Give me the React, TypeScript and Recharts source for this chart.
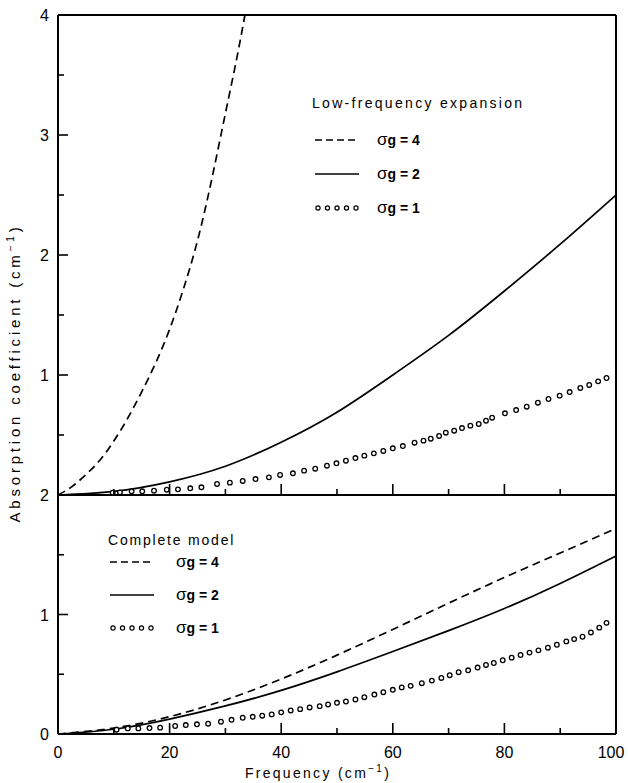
import React from 'react';
import { LineChart, Line, XAxis, YAxis } from 'recharts';

const FONT = '"Liberation Sans", Arial, sans-serif';
const W = 628;
const H = 783;

// ---------- data ----------
// Upper panel: low-frequency expansion
const lowFreq4 = [0, 2.5, 5, 7.5, 10, 12.5, 15, 17.5, 20, 22.5, 25, 27.5, 30, 32, 33.5];
const lowAbs4 = [0, 0.07, 0.17, 0.29, 0.45, 0.64, 0.86, 1.1, 1.38, 1.72, 2.12, 2.62, 3.18, 3.63, 4.0];

const lowFreq2 = [0, 10, 20, 30, 40, 50, 60, 70, 80, 90, 100];
const lowAbs2 = [0, 0.03, 0.11, 0.24, 0.44, 0.69, 1.0, 1.33, 1.7, 2.09, 2.5];

const lowFreq1 = [9.8, 11.1, 13.2, 15.1, 17.2, 19.5, 21.5, 23.7, 25.7, 28.5, 30.8, 33.1, 35.4, 37.8, 39.8, 42.1, 44.1, 46.1, 48.2, 49.9, 51.6, 53.3, 54.9, 56.6, 58.3, 60.0, 61.8, 63.9, 65.5, 66.8, 68.3, 69.5, 71.0, 72.4, 73.9, 75.4, 76.7, 77.8, 80.1, 82.1, 84.0, 86.0, 87.9, 89.9, 91.7, 93.6, 95.2, 96.8, 98.3];
const lowAbs1 = [0.019, 0.022, 0.031, 0.031, 0.036, 0.044, 0.047, 0.056, 0.064, 0.092, 0.103, 0.117, 0.133, 0.147, 0.167, 0.181, 0.203, 0.219, 0.244, 0.264, 0.286, 0.308, 0.328, 0.347, 0.367, 0.389, 0.408, 0.436, 0.453, 0.469, 0.492, 0.519, 0.536, 0.558, 0.578, 0.592, 0.619, 0.644, 0.681, 0.708, 0.736, 0.769, 0.8, 0.828, 0.858, 0.892, 0.917, 0.947, 0.975];

// Lower panel: complete model
const fullFreq = [0, 10, 20, 30, 40, 50, 60, 70, 80, 90, 100];
const fullAbs4 = [0, 0.05, 0.145, 0.285, 0.46, 0.66, 0.875, 1.095, 1.31, 1.515, 1.72];
const fullAbs2 = [0, 0.04, 0.125, 0.235, 0.365, 0.52, 0.69, 0.865, 1.05, 1.26, 1.49];

const fullFreq1 = [10.5, 12.5, 14.4, 16.4, 18.3, 21.0, 22.9, 24.9, 26.9, 29.2, 31.1, 33.1, 34.9, 36.6, 38.3, 40.0, 41.7, 43.4, 45.1, 46.9, 48.4, 50.0, 51.6, 53.3, 54.9, 56.7, 58.3, 60.0, 61.6, 63.2, 65.2, 67.0, 68.7, 70.2, 71.8, 73.5, 75.2, 76.7, 78.1, 79.7, 81.3, 82.9, 84.5, 86.1, 87.8, 89.4, 91.1, 92.5, 94.0, 95.5, 97.0, 98.3];
const fullAbs1 = [0.036, 0.047, 0.047, 0.05, 0.053, 0.067, 0.075, 0.081, 0.086, 0.103, 0.119, 0.136, 0.144, 0.153, 0.164, 0.181, 0.197, 0.208, 0.222, 0.233, 0.247, 0.261, 0.272, 0.289, 0.308, 0.33, 0.35, 0.37, 0.39, 0.403, 0.425, 0.447, 0.469, 0.492, 0.517, 0.533, 0.556, 0.578, 0.594, 0.617, 0.639, 0.661, 0.681, 0.7, 0.722, 0.747, 0.775, 0.794, 0.814, 0.85, 0.89, 0.93];

const xTicks = [0, 10, 20, 30, 40, 50, 60, 70, 80, 90, 100];
const xLabels = ['0', '', '20', '', '40', '', '60', '', '80', '', '100'];
const yTicksTop = [0, 0.5, 1, 1.5, 2, 2.5, 3, 3.5, 4];
const yTicksBottom = [0, 0.5, 1, 1.5, 2];

const zip = (xs: number[], ys: number[]) => xs.map((f, i) => ({ f, v: ys[i] }));

const TICK_W = 1.6;
const isMajorX = (v: number) => Math.round(v) % 20 === 0;
const isMajorY = (v: number) => Math.abs(v - Math.round(v)) < 1e-6;

const LeftTick = (p: any, hideZero: boolean) => {
  const v = p.payload.value;
  const major = isMajorY(v);
  const label = major && !(hideZero && v === 0) ? String(Math.round(v)) : '';
  return (
    <g>
      <line x1={p.x} x2={p.x + (major ? 10 : 6)} y1={p.y} y2={p.y} stroke="#000" strokeWidth={TICK_W} />
      {label && (
        <text x={p.x - 9} y={p.y + 6} textAnchor="end" fontSize={16} fontFamily={FONT} fill="#000">
          {label}
        </text>
      )}
    </g>
  );
};

const RightTick = (p: any) => {
  const major = isMajorY(p.payload.value);
  return <line x1={p.x} x2={p.x - (major ? 10 : 6)} y1={p.y} y2={p.y} stroke="#000" strokeWidth={TICK_W} />;
};

const TopTick = (p: any) => {
  const major = isMajorX(p.payload.value);
  return <line x1={p.x} x2={p.x} y1={p.y} y2={p.y + (major ? 10 : 6)} stroke="#000" strokeWidth={TICK_W} />;
};

const BottomTick = (p: any, withLabel: boolean) => {
  const v = p.payload.value;
  const major = isMajorX(v);
  const idx = xTicks.indexOf(v);
  const label = withLabel && idx >= 0 ? xLabels[idx] : '';
  const shift = idx === xTicks.length - 1 ? -5 : 0;
  return (
    <g>
      <line x1={p.x} x2={p.x} y1={p.y} y2={p.y - (major ? 11 : 6)} stroke="#000" strokeWidth={TICK_W} />
      {label && (
        <text x={p.x + shift} y={p.y + 24} textAnchor="middle" fontSize={16} fontFamily={FONT} fill="#000">
          {label}
        </text>
      )}
    </g>
  );
};

const axisLine = { stroke: '#000', strokeWidth: 2 };
const dashed = { stroke: '#000', strokeWidth: 1.7, strokeDasharray: '8 5' };
const solid = { stroke: '#000', strokeWidth: 1.7 };
const circleDot = { r: 2.3, fill: '#fff', stroke: '#000', strokeWidth: 1.3 };

const Sigma = ({ x, y, n }: { x: number; y: number; n: string }) => (
  <text x={x} y={y} fontFamily={FONT} fontSize={14} fill="#000" fontWeight="bold">
    <tspan fontSize={17} fontWeight="normal">σ</tspan>
    <tspan>{`g = ${n}`}</tspan>
  </text>
);

const LegendBlock = ({ x, y, title, spacing, gap, sx, tx }: any) => {
  const rows = [
    { kind: 'dash', n: '4' },
    { kind: 'solid', n: '2' },
    { kind: 'dots', n: '1' },
  ];
  return (
    <g>
      <text x={x} y={y} fontFamily={FONT} fontSize={14} letterSpacing={spacing} fill="#000">
        {title}
      </text>
      {rows.map((r, i) => {
        const ry = y + gap.first + i * gap.step;
        return (
          <g key={i}>
            {r.kind === 'dash' && <line x1={sx} x2={sx + 44} y1={ry} y2={ry} {...dashed} strokeDasharray="7 4" />}
            {r.kind === 'solid' && <line x1={sx} x2={sx + 44} y1={ry} y2={ry} {...solid} strokeWidth={1.4} />}
            {r.kind === 'dots' &&
              [0, 1, 2, 3, 4].map((k) => (
                <circle key={k} cx={sx + 3 + k * 9.5} cy={ry} r={2.1} fill="#fff" stroke="#000" strokeWidth={1.2} />
              ))}
            <Sigma x={tx} y={ry + 5} n={r.n} />
          </g>
        );
      })}
    </g>
  );
};

export default function App() {
  const common = { width: W, height: H };
  return (
    <div style={{ position: 'absolute', left: 0, top: 0, width: W, height: H, background: '#fff' }}>
      {/* Upper panel */}
      <div style={{ position: 'absolute', left: 0, top: 0 }}>
        <LineChart {...common} margin={{ top: 14, right: 11, bottom: 287, left: 0 }}>
          <XAxis
            xAxisId="b"
            dataKey="f"
            type="number"
            domain={[0, 100]}
            ticks={xTicks}
            interval={0}
            tickSize={0}
            tickMargin={0}
            height={1}
            axisLine={axisLine}
            tickLine={false}
            tick={(p: any) => BottomTick(p, false)}
          />
          <XAxis
            xAxisId="t"
            orientation="top"
            dataKey="f"
            type="number"
            domain={[0, 100]}
            ticks={xTicks}
            interval={0}
            tickSize={0}
            tickMargin={0}
            height={1}
            axisLine={axisLine}
            tickLine={false}
            tick={TopTick}
          />
          <YAxis
            yAxisId="l"
            type="number"
            domain={[0, 4]}
            ticks={yTicksTop}
            interval={0}
            width={58}
            tickSize={0}
            tickMargin={0}
            axisLine={axisLine}
            tickLine={false}
            allowDataOverflow
            tick={(p: any) => LeftTick(p, true)}
          />
          <YAxis
            yAxisId="r"
            orientation="right"
            type="number"
            domain={[0, 4]}
            ticks={yTicksTop}
            interval={0}
            width={1}
            tickSize={0}
            tickMargin={0}
            axisLine={axisLine}
            tickLine={false}
            tick={RightTick}
          />
          <Line xAxisId="b" yAxisId="l" data={zip(lowFreq4, lowAbs4)} dataKey="v" type="natural" dot={false} isAnimationActive={false} {...dashed} />
          <Line xAxisId="b" yAxisId="l" data={zip(lowFreq2, lowAbs2)} dataKey="v" type="natural" dot={false} isAnimationActive={false} {...solid} />
          <Line xAxisId="b" yAxisId="l" data={zip(lowFreq1, lowAbs1)} dataKey="v" type="linear" stroke="none" dot={circleDot} activeDot={false} isAnimationActive={false} />
        </LineChart>
      </div>

      {/* Lower panel */}
      <div style={{ position: 'absolute', left: 0, top: 0 }}>
        <LineChart {...common} margin={{ top: 495, right: 11, bottom: 0, left: 0 }}>
          <XAxis
            xAxisId="b"
            dataKey="f"
            type="number"
            domain={[0, 100]}
            ticks={xTicks}
            interval={0}
            tickSize={0}
            tickMargin={0}
            height={49}
            axisLine={axisLine}
            tickLine={false}
            tick={(p: any) => BottomTick(p, true)}
          />
          <YAxis
            yAxisId="l"
            type="number"
            domain={[0, 2]}
            ticks={yTicksBottom}
            interval={0}
            width={58}
            tickSize={0}
            tickMargin={0}
            axisLine={axisLine}
            tickLine={false}
            tick={(p: any) => LeftTick(p, false)}
          />
          <YAxis
            yAxisId="r"
            orientation="right"
            type="number"
            domain={[0, 2]}
            ticks={yTicksBottom}
            interval={0}
            width={1}
            tickSize={0}
            tickMargin={0}
            axisLine={axisLine}
            tickLine={false}
            tick={RightTick}
          />
          <Line xAxisId="b" yAxisId="l" data={zip(fullFreq, fullAbs4)} dataKey="v" type="natural" dot={false} isAnimationActive={false} {...dashed} />
          <Line xAxisId="b" yAxisId="l" data={zip(fullFreq, fullAbs2)} dataKey="v" type="natural" dot={false} isAnimationActive={false} {...solid} />
          <Line xAxisId="b" yAxisId="l" data={zip(fullFreq1, fullAbs1)} dataKey="v" type="linear" stroke="none" dot={circleDot} activeDot={false} isAnimationActive={false} />
        </LineChart>
      </div>

      {/* Annotations: legends and axis titles */}
      <svg width={W} height={H} style={{ position: 'absolute', left: 0, top: 0, pointerEvents: 'none' }}>
        <LegendBlock x={312} y={108} title="Low-frequency expansion" spacing={2.3} gap={{ first: 32, step: 34 }} sx={315} tx={377} />
        <LegendBlock x={108} y={545} title="Complete model" spacing={1.8} gap={{ first: 17, step: 33 }} sx={110} tx={176} />
        <text
          x={20}
          y={373}
          transform="rotate(-90, 20, 373)"
          textAnchor="middle"
          fontFamily={FONT}
          fontSize={15}
          letterSpacing={3.8}
          fill="#000"
        >
          Absorption coefficient (cm
          <tspan dy={-6} fontSize={10}>−1</tspan>
          <tspan dy={6}>)</tspan>
        </text>
        <text x={318} y={778} textAnchor="middle" fontFamily={FONT} fontSize={14} letterSpacing={2.3} fill="#000">
          Frequency (cm
          <tspan dy={-6} fontSize={10}>−1</tspan>
          <tspan dy={6}>)</tspan>
        </text>
      </svg>
    </div>
  );
}
